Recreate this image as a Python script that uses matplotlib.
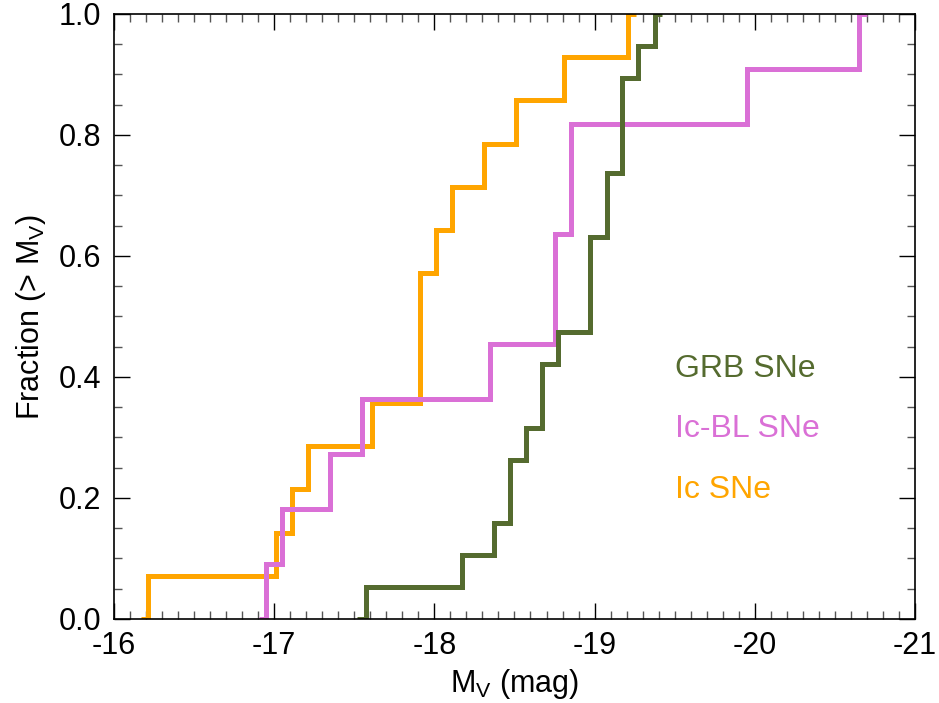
import matplotlib
matplotlib.use('Agg')
import matplotlib.pyplot as plt
from matplotlib.ticker import MultipleLocator

plt.rcParams['font.family'] = ['Liberation Sans', 'DejaVu Sans']
plt.rcParams['mathtext.fontset'] = 'custom'
plt.rcParams['mathtext.rm'] = 'Liberation Sans'
plt.rcParams['mathtext.it'] = 'Liberation Sans:italic'
plt.rcParams['axes.unicode_minus'] = False

# Step edges (M_V) and cumulative fractions
ic_mag = [-16.17, -16.21, -17.01, -17.11, -17.21, -17.61, -17.91,
          -18.01, -18.11, -18.31, -18.51, -18.81, -19.21, -19.26]
ic_frac = [0, 1/14, 2/14, 3/14, 4/14, 5/14, 8/14,
           9/14, 10/14, 11/14, 12/14, 13/14, 1.0, 1.0]

icbl_mag = [-16.905, -16.95, -17.05, -17.35, -17.55, -18.35,
            -18.75, -18.85, -19.95, -20.65, -20.70]
icbl_frac = [0, 1/11, 2/11, 3/11, 4/11, 5/11,
             7/11, 9/11, 10/11, 1.0, 1.0]

grb_mag = [-17.52, -17.575, -18.175, -18.37, -18.47, -18.57, -18.67,
           -18.77, -18.97, -19.08, -19.17, -19.27, -19.38, -19.42]
grb_frac = [0, 1/19, 2/19, 3/19, 5/19, 6/19, 8/19,
            9/19, 12/19, 14/19, 17/19, 18/19, 1.0, 1.0]

labels = ['GRB SNe', 'Ic-BL SNe', 'Ic SNe']
label_y = [0.40, 0.30, 0.20]
c_grb = '#556B2F'
c_icbl = '#DA70D6'
c_ic = '#FFA500'

fig = plt.figure(figsize=(9.39, 7.03), dpi=100)
ax = fig.add_axes([0.1214, 0.1195, 0.8530, 0.8606])

lw = 3.6
kw = dict(where='post', lw=lw, solid_joinstyle='miter', solid_capstyle='butt')
ax.step(ic_mag, ic_frac, color=c_ic, **kw)
ax.step(icbl_mag, icbl_frac, color=c_icbl, **kw)
ax.step(grb_mag, grb_frac, color=c_grb, **kw)

for txt, yy, col in zip(labels, label_y, [c_grb, c_icbl, c_ic]):
    ax.text(-19.5, yy, txt, color=col, fontsize=23, va='baseline', ha='left')

ax.set_xlim(-16, -21)
ax.set_ylim(0, 1.0)
ax.xaxis.set_major_locator(MultipleLocator(1))
ax.xaxis.set_minor_locator(MultipleLocator(0.1))
ax.yaxis.set_major_locator(MultipleLocator(0.2))
ax.yaxis.set_minor_locator(MultipleLocator(0.05))
ax.yaxis.set_major_formatter(plt.FormatStrFormatter('%.1f'))
ax.xaxis.set_major_formatter(plt.FormatStrFormatter('%d'))

ax.tick_params(which='both', direction='in', top=True, right=True, labelsize=22)
ax.tick_params(which='major', length=11.5, width=1.0, pad=9)
ax.tick_params(which='minor', length=5.8, width=1.0, color='#555555')
for sp in ax.spines.values():
    sp.set_linewidth(1.2)

ax.set_xlabel(r'M$_\mathrm{V}$ (mag)', fontsize=22, labelpad=4)
ax.set_ylabel(r'Fraction (> M$_\mathrm{V}$)', fontsize=22, labelpad=8)

fig.savefig('out.png', dpi=100)
